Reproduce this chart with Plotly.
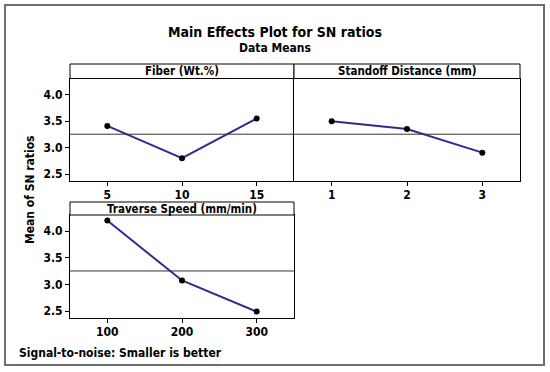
import plotly.graph_objects as go
import numpy as np

# ---- data ----
fiber_levels = [5, 10, 15]
fiber_sn = [3.41, 2.80, 3.55]
standoff_levels = [1, 2, 3]
standoff_sn = [3.50, 3.35, 2.905]
speed_levels = [100, 200, 300]
speed_sn = [4.20, 3.075, 2.49]
panel_titles = ["Fiber (Wt.%)", "Standoff Distance (mm)", "Traverse Speed (mm/min)"]
y_tick_vals = [2.5, 3.0, 3.5, 4.0]
y_tick_text = ["2.5", "3.0", "3.5", "4.0"]

grand_mean = float(np.mean(fiber_sn + standoff_sn + speed_sn))

W, H = 550, 372
def px(x):
    return x / W
def py(y):
    return 1 - y / H

FONT = "DejaVu Sans Condensed, DejaVu Sans"
LINE_COLOR = "#2d2d8c"

fig = go.Figure()

panels = [
    (fiber_levels, fiber_sn, "x", "y"),
    (standoff_levels, standoff_sn, "x2", "y2"),
    (speed_levels, speed_sn, "x3", "y3"),
]
for lv, vals, xa, ya in panels:
    fig.add_trace(go.Scatter(
        x=lv, y=vals, xaxis=xa, yaxis=ya, mode="lines+markers",
        line=dict(color=LINE_COLOR, width=2),
        marker=dict(color="black", size=6),
        showlegend=False, hoverinfo="skip",
    ))

x_dom1 = [px(70), px(294)]
x_dom2 = [px(294), px(520)]
y_top = [py(181), py(78.5)]
y_bot = [py(318), py(215)]
y_range = [2.37, 4.305]

tickfont = dict(family=FONT, size=12, color="black", weight="bold")
common_x = dict(showline=True, linecolor="black", linewidth=1, mirror=True,
                ticks="outside", ticklen=4, tickcolor="black", tickwidth=1,
                ticklabelstandoff=-1,
                showgrid=False, zeroline=False, tickfont=tickfont)
common_y = dict(showline=True, linecolor="black", linewidth=1,
                showgrid=False, zeroline=False, range=y_range, tickfont=tickfont,
                tickvals=y_tick_vals, ticktext=y_tick_text)

fig.update_layout(
    width=W, height=H,
    margin=dict(l=0, r=0, t=0, b=0),
    paper_bgcolor="white", plot_bgcolor="white",
    xaxis=dict(domain=x_dom1, anchor="y", range=[2.5, 17.5],
               tickvals=fiber_levels, **common_x),
    yaxis=dict(domain=y_top, anchor="x", ticks="outside", ticklen=4,
               tickcolor="black", mirror=False, **common_y),
    xaxis2=dict(domain=x_dom2, anchor="y2", range=[0.5, 3.5],
                tickvals=standoff_levels, **common_x),
    yaxis2=dict(domain=y_top, anchor="x2", ticks="", showticklabels=False,
                mirror=True, **common_y),
    xaxis3=dict(domain=x_dom1, anchor="y3", range=[50, 350],
                tickvals=speed_levels, **common_x),
    yaxis3=dict(domain=y_bot, anchor="x3", ticks="outside", ticklen=4,
                tickcolor="black", mirror=True, **common_y),
)

# reference (grand mean) lines
for xa, ya in [("x", "y"), ("x2", "y2"), ("x3", "y3")]:
    fig.add_shape(type="line", xref=f"{xa} domain", yref=ya,
                  x0=0, x1=1, y0=grand_mean, y1=grand_mean,
                  line=dict(color="#333333", width=1))

# strip headers
strips = [
    (x_dom1, [py(78.5), py(64)], panel_titles[0]),
    (x_dom2, [py(78.5), py(64)], panel_titles[1]),
    (x_dom1, [py(215), py(202)], panel_titles[2]),
]
for xd, yd, txt in strips:
    fig.add_shape(type="rect", xref="paper", yref="paper",
                  x0=xd[0], x1=xd[1], y0=yd[0], y1=yd[1],
                  line=dict(color="black", width=1), fillcolor="white")
    fig.add_annotation(x=(xd[0] + xd[1]) / 2, y=(yd[0] + yd[1]) / 2,
                       xref="paper", yref="paper", text=txt, showarrow=False,
                       font=dict(family=FONT, size=11.5, color="black", weight="bold"),
                       xanchor="center", yanchor="middle", borderpad=0)

# outer border
fig.add_shape(type="rect", xref="paper", yref="paper",
              x0=px(5), x1=px(544), y0=py(365), y1=py(5),
              line=dict(color="#6e6e6e", width=2))

# titles
fig.add_annotation(x=px(275), y=py(32), xref="paper", yref="paper",
                   text="Main Effects Plot for SN ratios", showarrow=False,
                   font=dict(family=FONT, size=14, color="black", weight="bold"),
                   xanchor="center", yanchor="middle")
fig.add_annotation(x=px(275), y=py(48), xref="paper", yref="paper",
                   text="Data Means", showarrow=False,
                   font=dict(family=FONT, size=12, color="black", weight="bold"),
                   xanchor="center", yanchor="middle")
fig.add_annotation(x=px(30), y=py(190), xref="paper", yref="paper",
                   text="Mean of SN ratios", showarrow=False, textangle=-90,
                   font=dict(family=FONT, size=12, color="black", weight="bold"),
                   xanchor="center", yanchor="middle")
fig.add_annotation(x=px(17), y=py(352.5), xref="paper", yref="paper",
                   text="Signal-to-noise: Smaller is better", showarrow=False,
                   font=dict(family=FONT, size=12, color="black", weight="bold"),
                   xanchor="left", yanchor="middle")

fig.write_html(
    "out.html",
    config={"displayModeBar": False},
    post_script="document.body.style.margin='0';document.body.style.overflow='hidden';",
)
